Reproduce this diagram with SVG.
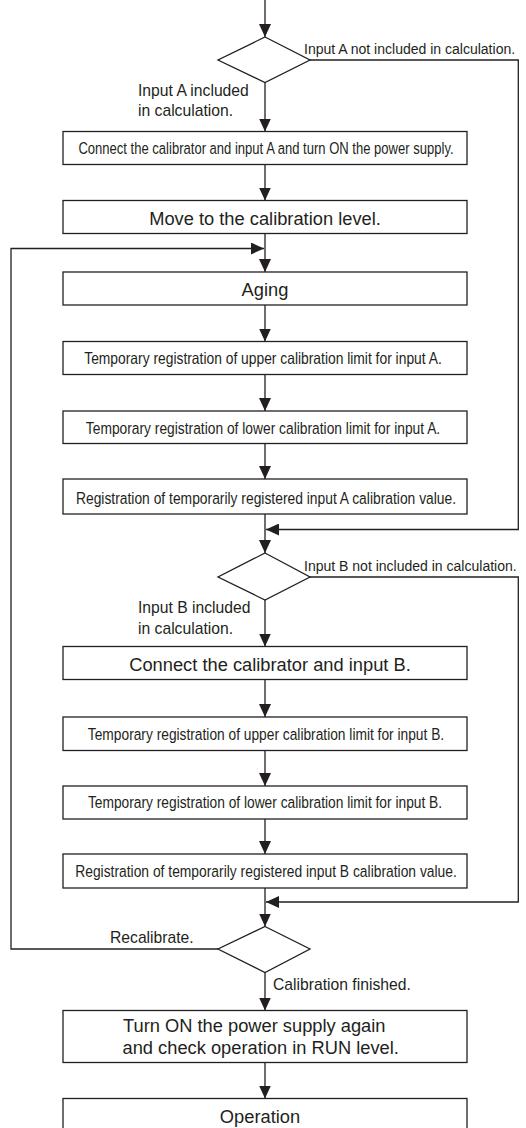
<svg xmlns="http://www.w3.org/2000/svg" width="526" height="1128" viewBox="0 0 526 1128">
<style>
.bx{fill:#fff;stroke:#231f20;stroke-width:1.3}
.ln{fill:none;stroke:#231f20;stroke-width:1.3}
.t{font-family:"Liberation Sans",Arial,sans-serif;fill:#231f20}
.big{font-size:18.3px;text-anchor:middle}
.cnd{font-size:16.5px;text-anchor:middle}
.lab{font-size:15.7px}
.labn{font-size:15.5px}
</style>
<defs>
<marker id="ah" markerUnits="userSpaceOnUse" markerWidth="13" markerHeight="12" viewBox="0 0 13 12" refX="13" refY="6" orient="auto">
<path d="M0,0 L13,6 L0,12 z" fill="#231f20"/>
</marker>
</defs>
<rect width="526" height="1128" fill="#fff"/>

<g id="connectors">
<path class="ln" d="M265,0 V37" marker-end="url(#ah)"/>
<path class="ln" d="M265,82.5 V131.5" marker-end="url(#ah)"/>
<path class="ln" d="M310,60 H518.3 V529.5 H266" marker-end="url(#ah)"/>
<path class="ln" d="M265,164.5 V200.5" marker-end="url(#ah)"/>
<path class="ln" d="M265,233.5 V272" marker-end="url(#ah)"/>
<path class="ln" d="M218,949 H11 V248.5 H264" marker-end="url(#ah)"/>
<path class="ln" d="M265,305 V341.5" marker-end="url(#ah)"/>
<path class="ln" d="M265,374.5 V411" marker-end="url(#ah)"/>
<path class="ln" d="M265,443.5 V479" marker-end="url(#ah)"/>
<path class="ln" d="M265,514 V553" marker-end="url(#ah)"/>
<path class="ln" d="M265,600 V646.5" marker-end="url(#ah)"/>
<path class="ln" d="M310,577 H518.3 V902 H266" marker-end="url(#ah)"/>
<path class="ln" d="M265,679.5 V717" marker-end="url(#ah)"/>
<path class="ln" d="M265,750.5 V786" marker-end="url(#ah)"/>
<path class="ln" d="M265,819 V854" marker-end="url(#ah)"/>
<path class="ln" d="M265,888 V926.5" marker-end="url(#ah)"/>
<path class="ln" d="M265,972.5 V1010.5" marker-end="url(#ah)"/>
<path class="ln" d="M265,1062.5 V1098.5" marker-end="url(#ah)"/>
<text class="t labn" transform="translate(304,54) scale(0.905,1)">Input A not included in calculation.</text>
<text class="t lab" x="138" y="95.5">Input A included</text>
<text class="t lab" x="138" y="115.5">in calculation.</text>
<text class="t labn" transform="translate(304,571) scale(0.905,1)">Input B not included in calculation.</text>
<text class="t lab" x="138" y="613">Input B included</text>
<text class="t lab" x="138" y="634">in calculation.</text>
<text class="t lab" x="110" y="943">Recalibrate.</text>
<text class="t lab" x="273" y="990">Calibration finished.</text>
</g>

<g id="decisionA"><path class="bx" d="M265,37 L310,60 L265,82.5 L218,60 Z"/></g>

<g id="connectA"><rect class="bx" x="63" y="131.5" width="404" height="33"/>
<text class="t cnd" transform="translate(266,154) scale(0.791,1)">Connect the calibrator and input A and turn ON the power supply.</text></g>

<g id="moveLevel"><rect class="bx" x="63" y="200.5" width="404" height="33"/>
<text class="t big" x="265" y="224.5">Move to the calibration level.</text></g>

<g id="aging"><rect class="bx" x="63" y="272" width="404" height="33"/>
<text class="t big" x="265" y="295.5">Aging</text></g>

<g id="upperA"><rect class="bx" x="63" y="341.5" width="404" height="33"/>
<text class="t cnd" transform="translate(263,364) scale(0.839,1)">Temporary registration of upper calibration limit for input A.</text></g>

<g id="lowerA"><rect class="bx" x="63" y="411" width="404" height="32.5"/>
<text class="t cnd" transform="translate(263,433.5) scale(0.837,1)">Temporary registration of lower calibration limit for input A.</text></g>

<g id="regA"><rect class="bx" x="63" y="479" width="404" height="35"/>
<text class="t cnd" transform="translate(266,503.5) scale(0.84,1)">Registration of temporarily registered input A calibration value.</text></g>

<g id="decisionB"><path class="bx" d="M265,553 L310,577 L265,600 L218,577 Z"/></g>

<g id="connectB"><rect class="bx" x="63" y="646.5" width="404" height="33"/>
<text class="t big" x="270" y="670.5">Connect the calibrator and input B.</text></g>

<g id="upperB"><rect class="bx" x="63" y="717" width="404" height="33.5"/>
<text class="t cnd" transform="translate(266,739.5) scale(0.834,1)">Temporary registration of upper calibration limit for input B.</text></g>

<g id="lowerB"><rect class="bx" x="63" y="786" width="404" height="33"/>
<text class="t cnd" transform="translate(265,808) scale(0.835,1)">Temporary registration of lower calibration limit for input B.</text></g>

<g id="regB"><rect class="bx" x="63" y="854" width="404" height="34"/>
<text class="t cnd" transform="translate(266,877) scale(0.84,1)">Registration of temporarily registered input B calibration value.</text></g>

<g id="decisionRecal"><path class="bx" d="M265,926.5 L310,949 L265,972.5 L218,949 Z"/></g>

<g id="turnOn"><rect class="bx" x="63" y="1010.5" width="404" height="52"/>
<text class="t" font-size="18.3" x="123" y="1031.5">Turn ON the power supply again</text>
<text class="t" font-size="18.3" x="122.5" y="1053.5">and check operation in RUN level.</text></g>

<g id="operation"><rect class="bx" x="63" y="1098.5" width="404" height="36"/>
<text class="t big" x="260" y="1123">Operation</text></g>
</svg>
